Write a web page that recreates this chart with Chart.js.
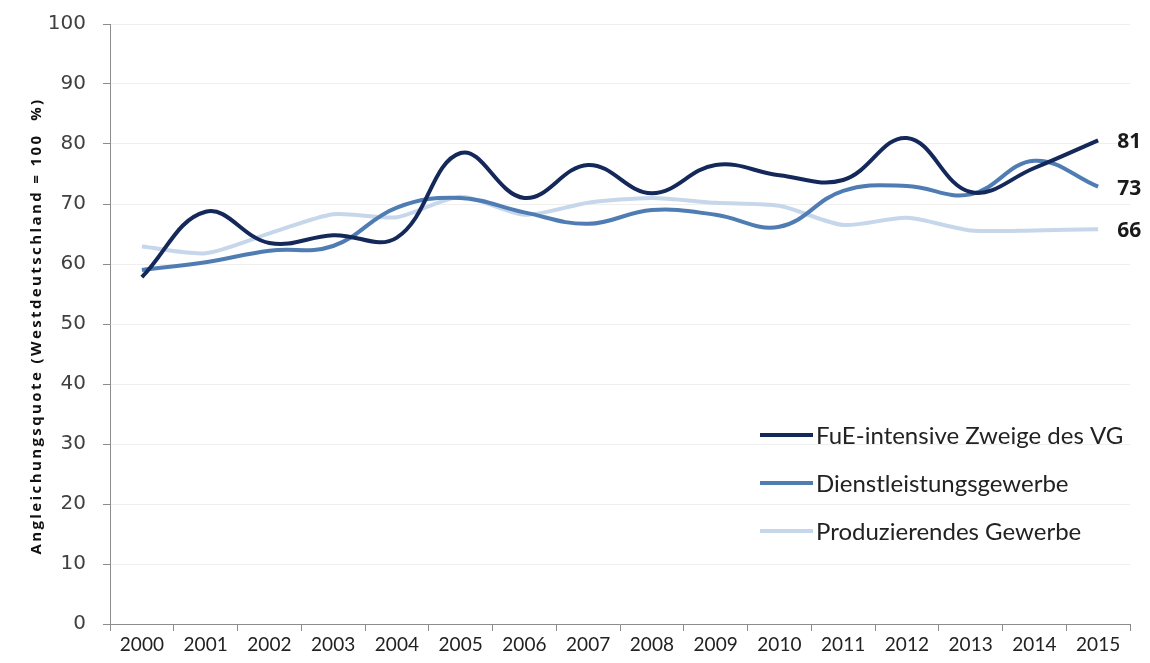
<!DOCTYPE html>
<html>
<head>
<meta charset="utf-8">
<script src="https://cdn.jsdelivr.net/npm/chart.js@4"></script>
<style>
html,body{margin:0;padding:0;background:#fff;}
canvas{display:block;}
</style>
</head>
<body>
<canvas id="c" width="1150" height="663"></canvas>
<script>
const years = ['2000','2001','2002','2003','2004','2005','2006','2007','2008','2009','2010','2011','2012','2013','2014','2015'];
const fueValues = [57.8, 68.7, 63.5, 64.8, 64.4, 78.5, 71.0, 76.5, 71.8, 76.5, 74.8, 74.0, 81.0, 72.0, 76.0, 80.6];
const dienstValues = [59.0, 60.3, 62.2, 63.0, 69.4, 71.0, 68.6, 66.7, 69.0, 68.2, 66.2, 72.2, 73.0, 71.6, 77.2, 72.9];
const produzValues = [62.9, 61.8, 65.1, 68.3, 67.8, 71.2, 68.2, 70.2, 71.0, 70.2, 69.7, 66.5, 67.7, 65.6, 65.6, 65.8];
const seriesLabels = ['FuE-intensive Zweige des VG', 'Dienstleistungsgewerbe', 'Produzierendes Gewerbe'];
const yTitle = 'Angleichungsquote (Westdeutschland = 100  %)';
const yTicks = [0,10,20,30,40,50,60,70,80,90,100];
const colors = ['#14285a', '#4f7db3', '#c6d6eb'];

const endLabels = {
  id: 'endLabels',
  afterDatasetsDraw(chart) {
    const ctx = chart.ctx;
    ctx.save();
    ctx.font = 'bold 21px "Open Sans", sans-serif';
    ctx.fillStyle = '#1a1a1a';
    ctx.textAlign = 'left';
    ctx.textBaseline = 'middle';
    chart.data.datasets.forEach((ds, i) => {
      const meta = chart.getDatasetMeta(i);
      const pt = meta.data[meta.data.length - 1];
      const v = ds.data[ds.data.length - 1];
      ctx.fillText(String(Math.round(v)), pt.x + 19, pt.y + 2);
    });
    ctx.restore();
  }
};

const innerLegend = {
  id: 'innerLegend',
  afterDraw(chart) {
    const ctx = chart.ctx;
    const a = chart.chartArea;
    ctx.save();
    ctx.font = '24px Lato, sans-serif';
    ctx.textAlign = 'left';
    ctx.textBaseline = 'middle';
    chart.data.datasets.forEach((ds, i) => {
      const y = a.top + 411 + i * 48;
      const x0 = a.left + 650;
      ctx.strokeStyle = ds.borderColor;
      ctx.lineWidth = 4;
      ctx.beginPath();
      ctx.moveTo(x0, y);
      ctx.lineTo(x0 + 53, y);
      ctx.stroke();
      ctx.fillStyle = '#222';
      ctx.fillText(ds.label, x0 + 56, y + 1);
    });
    ctx.restore();
  }
};

const yTitlePlugin = {
  id: 'yTitlePlugin',
  afterDraw(chart) {
    const ctx = chart.ctx;
    const a = chart.chartArea;
    ctx.save();
    ctx.translate(37, (a.top + a.bottom) / 2 + 2);
    ctx.rotate(-Math.PI / 2);
    ctx.font = 'bold 15px "Open Sans", sans-serif';
    if ('letterSpacing' in ctx) ctx.letterSpacing = '2.4px';
    ctx.fillStyle = '#111';
    ctx.textAlign = 'center';
    ctx.textBaseline = 'middle';
    ctx.fillText(yTitle, 0, 0);
    ctx.restore();
  }
};

new Chart(document.getElementById('c'), {
  type: 'line',
  data: {
    labels: years,
    datasets: [
      { label: seriesLabels[0], data: fueValues, borderColor: colors[0], backgroundColor: colors[0], borderWidth: 4, tension: 0.4, pointRadius: 0 },
      { label: seriesLabels[1], data: dienstValues, borderColor: colors[1], backgroundColor: colors[1], borderWidth: 4, tension: 0.4, pointRadius: 0 },
      { label: seriesLabels[2], data: produzValues, borderColor: colors[2], backgroundColor: colors[2], borderWidth: 4, tension: 0.25, pointRadius: 0 }
    ]
  },
  options: {
    responsive: false,
    devicePixelRatio: 1,
    animation: false,
    layout: { padding: { top: 24, right: 20, left: 0, bottom: 0 } },
    plugins: { legend: { display: false }, tooltip: { enabled: false } },
    scales: {
      x: {
        offset: true,
        grid: { offset: true, drawOnChartArea: false, drawTicks: true, tickLength: 7, tickColor: '#8c8c8c' },
        border: { color: '#8c8c8c', width: 1 },
        ticks: { font: { size: 19, family: 'Lato, sans-serif' }, color: '#222', padding: 2, maxRotation: 0, autoSkip: false },
        afterFit: s => { s.height = 39; }
      },
      y: {
        min: 0, max: 100,
        afterBuildTicks: s => { s.ticks = yTicks.map(v => ({ value: v })); },
        grid: { color: '#efefef', tickLength: 7, tickColor: '#8c8c8c', drawTicks: true },
        border: { color: '#8c8c8c', width: 1 },
        ticks: { font: { size: 20, family: '"DejaVu Sans", sans-serif' }, color: '#404040', padding: 17 },
        title: { display: false },
        afterFit: s => { s.width = 110; s.paddingTop = 0; s.paddingBottom = 0; }
      }
    }
  },
  plugins: [endLabels, innerLegend, yTitlePlugin]
});
</script>
</body>
</html>
